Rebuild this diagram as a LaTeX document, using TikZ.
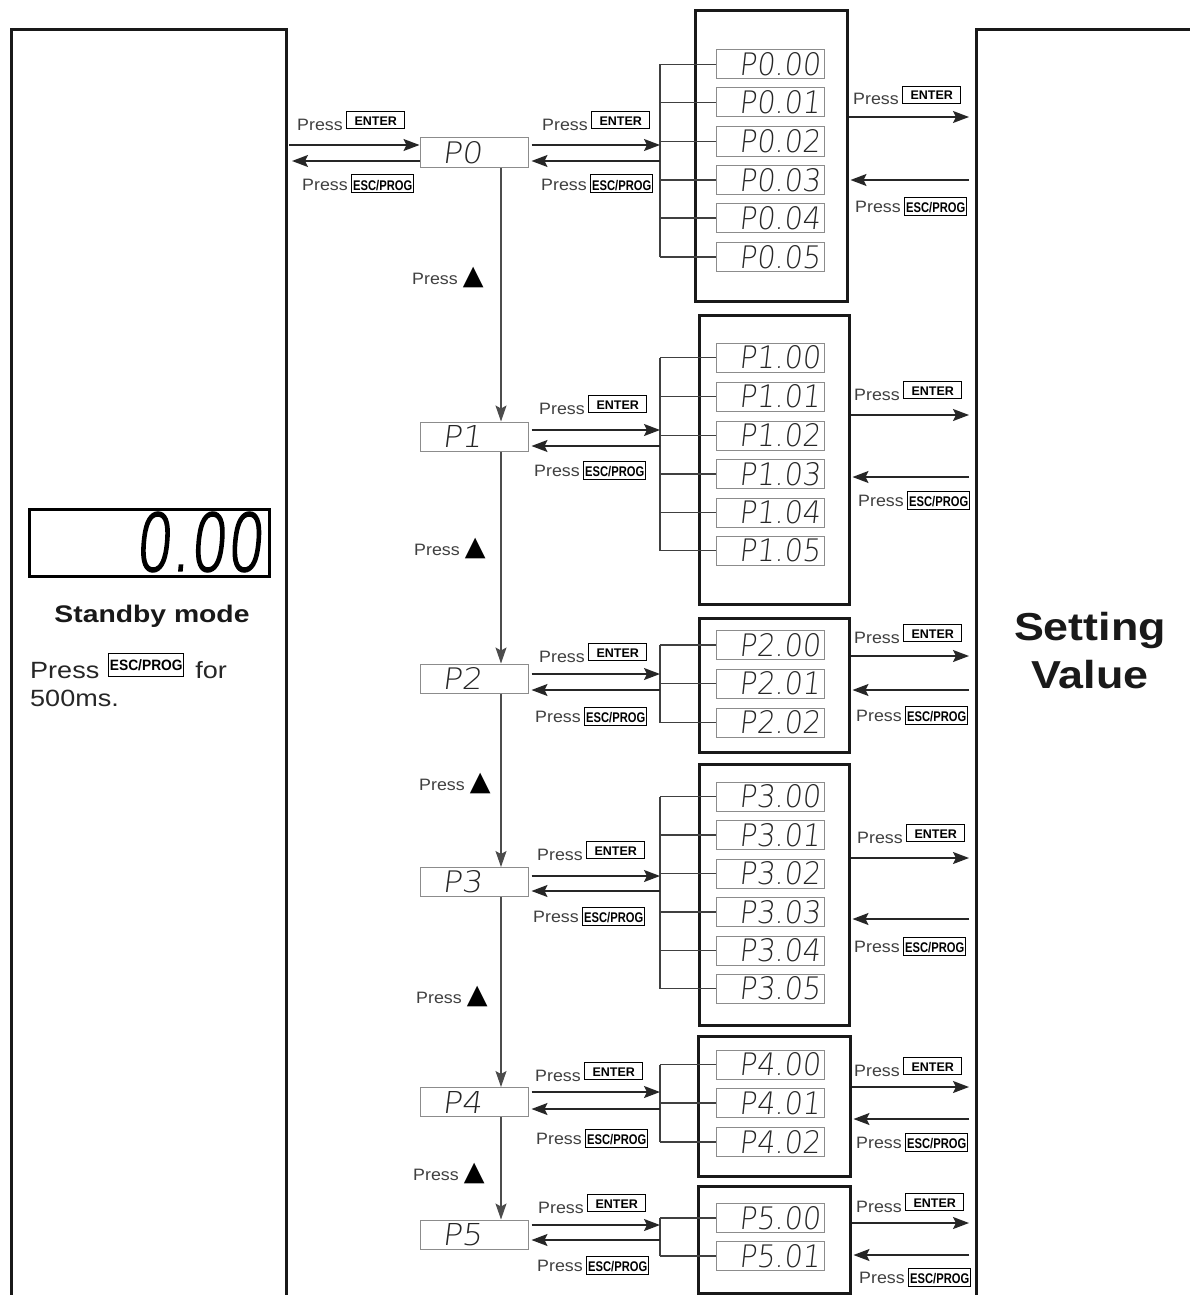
\documentclass[tikz,border=0pt]{standalone}
\usepackage{fontspec}
\setmainfont{Liberation Sans}
\newfontfamily\dejavu{DejaVu Sans}
\newfontfamily\segf{DejaVuSans-ExtraLight.ttf}[FakeSlant=0.12]
\newfontfamily\segbig{DejaVuSans-ExtraLight.ttf}[FakeSlant=0.12, FakeBold=3]
\usetikzlibrary{arrows.meta}
\newcommand\itxt[1]{\makebox[100pt][r]{\resizebox{81pt}{23pt}{\segf #1}}}
\newcommand\ptxt[1]{\makebox[64pt][l]{\resizebox{40pt}{22pt}{\segf #1}}}
\newcommand\kent{\raisebox{5pt}{\color{black}\setlength\fboxsep{0pt}\setlength\fboxrule{1pt}\fbox{\makebox[57pt]{\rule[-3pt]{0pt}{16pt}\fontsize{12.5}{12.5}\selectfont\bfseries ENTER}}}}
\newcommand\kesc{{\color{black}\setlength\fboxsep{0pt}\setlength\fboxrule{1pt}\fbox{\makebox[61pt]{\rule[-2pt]{0pt}{17pt}\scalebox{0.8}[1]{\fontsize{14}{14}\selectfont\bfseries ESC/PROG}}}}}
\newcommand\kescbig{\raisebox{7.5pt}{\color{black}\setlength\fboxsep{0pt}\setlength\fboxrule{1pt}\fbox{\makebox[74pt]{\rule[-5.5pt]{0pt}{22pt}\scalebox{0.92}[1]{\fontsize{15}{15}\selectfont\bfseries ESC/PROG}}}}}
\newcommand\pr{\scalebox{1.08}[1]{Press}}
\newcommand\pe{\pr\hspace{3.5pt}\kent}
\newcommand\px{\pr\hspace{3.5pt}\kesc}
\newcommand\pup{\pr\hspace{5pt}{\dejavu\fontsize{27}{27}\selectfont\color{black}▲}}
\tikzset{
 bigbox/.style={draw=black!90, line width=3pt, inner sep=0pt, anchor=north west},
 gbox/.style={draw=black!90, line width=3pt, inner sep=0pt, anchor=north west},
 ibox/.style={draw=black!45, line width=1pt, minimum width=108pt, minimum height=29pt, inner sep=0pt, text=black!85},
 pbox/.style={ibox},
 arr/.style={draw=black!85, line width=1.5pt, -{Stealth[length=16pt,width=12pt,inset=3pt]}},
 varr/.style={draw=black!70, line width=1.2pt, -{Stealth[length=16pt,width=11pt,inset=3pt]}},
 brk/.style={draw=black!75, line width=1.2pt},
 lbl/.style={inner sep=0pt, anchor=west, text=black!75, font=\fontsize{16.5}{18}\selectfont},
 tri/.style={inner sep=0pt, anchor=base west, text=black!75, font=\fontsize{16.5}{18}\selectfont},
}
\begin{document}
\begin{tikzpicture}[x=1pt,y=-1pt]
\useasboundingbox (0,0) rectangle (1190,1295);
\clip (0,0) rectangle (1190,1295);
\fill[white] (0,0) rectangle (1190,1295);

% big boxes
\node[bigbox, minimum width=275pt, minimum height=1350pt] (sb) at (10,28) {};
\node[bigbox, minimum width=300pt, minimum height=1350pt] (sv) at (975,28) {};

% standby
\node[draw=black, line width=3pt, minimum width=240pt, minimum height=67pt, anchor=north west, inner sep=0pt] (disp) at (28,508) {};
\node[anchor=east, inner sep=0pt] (dig) at (263,542) {\resizebox{128pt}{58pt}{\segbig 0.00}};
\node[anchor=base, inner sep=0pt, text=black!90, font=\fontsize{24}{24}\selectfont\bfseries] (sbt) at (152,622) {\scalebox{1.18}[1]{Standby mode}};
\node[anchor=base west, inner sep=0pt, text=black!85, font=\fontsize{23.5}{26}\selectfont] (sbp) at (30,678) {\scalebox{1.15}[1]{Press}\hspace{9pt}\kescbig\hspace{11pt}\scalebox{1.15}[1]{for}};
\node[anchor=base west, inner sep=0pt, text=black!85, font=\fontsize{23.5}{26}\selectfont] (sbm) at (30,706) {\scalebox{1.15}[1]{500ms.}};

% setting value
\node[anchor=base, inner sep=0pt, text=black!90, font=\fontsize{39}{39}\selectfont\bfseries] (sv1) at (1090,640) {\scalebox{1.15}[1]{Setting}};
\node[anchor=base, inner sep=0pt, text=black!90, font=\fontsize{39}{39}\selectfont\bfseries] (sv2) at (1090,688) {\scalebox{1.15}[1]{Value}};

% P boxes
\node[pbox] (p0) at (474,152.5) {\ptxt{P0}};
\node[pbox] (p1) at (474,436.5) {\ptxt{P1}};
\node[pbox] (p2) at (474,678.5) {\ptxt{P2}};
\node[pbox] (p3) at (474,882) {\ptxt{P3}};
\node[pbox] (p4) at (474,1102) {\ptxt{P4}};
\node[pbox] (p5) at (474,1234.5) {\ptxt{P5}};

% group boxes
\node[gbox, minimum width=152pt, minimum height=291pt] (g0) at (694,9) {};
\node[gbox, minimum width=150pt, minimum height=289pt] (g1) at (698,314) {};
\node[gbox, minimum width=150pt, minimum height=134pt] (g2) at (698,617) {};
\node[gbox, minimum width=150pt, minimum height=261pt] (g3) at (698,763) {};
\node[gbox, minimum width=152pt, minimum height=140pt] (g4) at (697,1035) {};
\node[gbox, minimum width=152pt, minimum height=107pt] (g5) at (697,1185) {};

% items
\foreach \i/\y in {0/64.5,1/102.5,2/141.5,3/180,4/218,5/257}
  \node[ibox] (g0-\i) at (770,\y) {\itxt{P0.0\i}};
\foreach \i/\y in {0/357.5,1/396.5,2/435.5,3/474,4/512.5,5/550.5}
  \node[ibox] (g1-\i) at (770,\y) {\itxt{P1.0\i}};
\foreach \i/\y in {0/645,1/683.5,2/722.5}
  \node[ibox] (g2-\i) at (770,\y) {\itxt{P2.0\i}};
\foreach \i/\y in {0/796.5,1/835,2/873.5,3/912,4/950.5,5/988.5}
  \node[ibox] (g3-\i) at (770,\y) {\itxt{P3.0\i}};
\foreach \i/\y in {0/1064.5,1/1103,2/1142}
  \node[ibox] (g4-\i) at (770,\y) {\itxt{P4.0\i}};
\foreach \i/\y in {0/1218,1/1256}
  \node[ibox] (g5-\i) at (770,\y) {\itxt{P5.0\i}};

% brackets
\coordinate (k) at (660,0);
\foreach \g/\n in {0/5,1/5,2/2,3/5,4/2,5/1}{
  \foreach \i in {0,...,\n}
    \draw[brk] (g\g-\i.west) -- (g\g-\i.west -| k);
  \draw[brk] (g\g-0.west -| k) -- (g\g-\n.west -| k);
}

% left arrows (standby <-> P0)
\draw[arr, shorten <=1pt] (sb.east |- 0,145) -- (p0.west |- 0,145);
\draw[arr, shorten >=4pt] (p0.west |- 0,161) -- (sb.east |- 0,161);

% middle arrows (P -> bracket, bracket -> P)
\foreach \p/\e/\s in {0/145/161, 1/430/446, 2/674/690, 3/876/891, 4/1092/1109, 5/1225/1240}{
  \draw[arr, shorten <=3pt] (p\p.east |- 0,\e) -- (k |- 0,\e);
  \draw[arr, shorten >=3pt] (k |- 0,\s) -- (p\p.east |- 0,\s);
}

% right arrows (group <-> setting value)
\foreach \p/\e/\s in {0/117/180, 1/415/477, 2/656/690, 3/858/919, 4/1087/1119, 5/1223/1255}{
  \draw[arr, shorten >=6pt] (g\p.east |- 0,\e) -- (sv.west |- 0,\e);
  \draw[arr, shorten <=6pt, shorten >=1.5pt] (sv.west |- 0,\s) -- (g\p.east |- 0,\s);
}

% vertical arrows
\foreach \a/\b in {0/1,1/2,2/3,3/4,4/5}
  \draw[varr] ([xshift=27pt]p\a.south) -- ([xshift=27pt]p\b.north);

% labels
\node[lbl] (la0e) at (297,121) {\pe};
\node[lbl] (la0x) at (302,183.5) {\px};
\node[lbl] (lm0e) at (542,121) {\pe};
\node[lbl] (lm0x) at (541,183.5) {\px};
\node[lbl] (lr0e) at (853,95.5) {\pe};
\node[lbl] (lr0x) at (855,206) {\px};
\node[lbl] (lm1e) at (539,405) {\pe};
\node[lbl] (lm1x) at (534,470) {\px};
\node[lbl] (lr1e) at (854,391) {\pe};
\node[lbl] (lr1x) at (858,500) {\px};
\node[lbl] (lm2e) at (539,653) {\pe};
\node[lbl] (lm2x) at (535,716) {\px};
\node[lbl] (lr2e) at (854,634) {\pe};
\node[lbl] (lr2x) at (856,715) {\px};
\node[lbl] (lm3e) at (537,851) {\pe};
\node[lbl] (lm3x) at (533,916) {\px};
\node[lbl] (lr3e) at (857,834) {\pe};
\node[lbl] (lr3x) at (854,946) {\px};
\node[lbl] (lm4e) at (535,1072) {\pe};
\node[lbl] (lm4x) at (536,1138) {\px};
\node[lbl] (lr4e) at (854,1067) {\pe};
\node[lbl] (lr4x) at (856,1142) {\px};
\node[lbl] (lm5e) at (538,1204) {\pe};
\node[lbl] (lm5x) at (537,1265) {\px};
\node[lbl] (lr5e) at (856,1203) {\pe};
\node[lbl] (lr5x) at (859,1277) {\px};

% press up labels
\node[tri] (u1) at (412,284) {\pup};
\node[tri] (u2) at (414,555) {\pup};
\node[tri] (u3) at (419,790) {\pup};
\node[tri] (u4) at (416,1003) {\pup};
\node[tri] (u5) at (413,1180) {\pup};
\end{tikzpicture}
\end{document}
